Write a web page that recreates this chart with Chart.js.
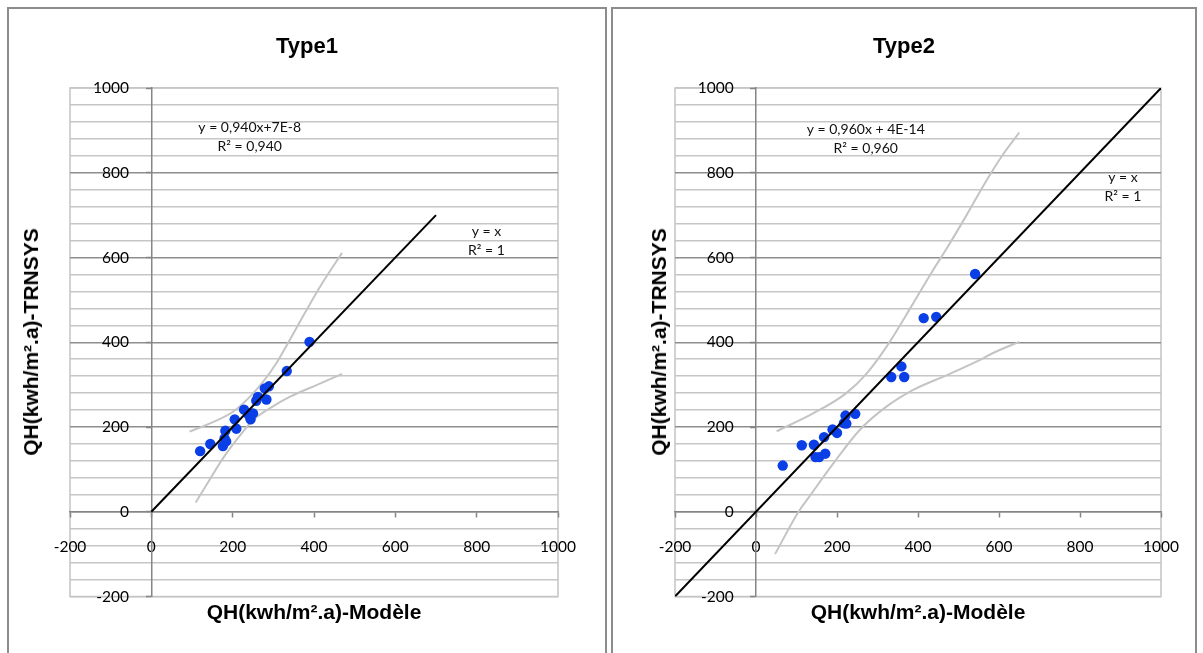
<!DOCTYPE html>
<html>
<head>
<meta charset="utf-8">
<script src="https://cdn.jsdelivr.net/npm/chart.js@4.4.1/dist/chart.umd.min.js"></script>
<style>
  html, body { margin: 0; padding: 0; background: #ffffff; }
  body { width: 1203px; height: 653px; position: relative; overflow: hidden; }
  .panel { position: absolute; top: 7px; height: 700px; border: 2px solid #8c8c8c; box-sizing: border-box; background: #ffffff; }
  canvas { position: absolute; top: 0; }
  .title { position: absolute; font-family: "Liberation Sans", Arial, sans-serif; font-weight: bold; color: #000; white-space: nowrap; transform: translate(-50%, -50%); }
  .ytitle { position: absolute; font-family: "Liberation Sans", Arial, sans-serif; font-weight: bold; color: #000; white-space: nowrap; transform: translate(-50%, -50%) rotate(-90deg); }
</style>
</head>
<body>
<div class="panel" style="left:7px; width:600px;"></div>
<div class="panel" style="left:611px; width:586px;"></div>
<canvas id="c1" width="607" height="653" style="left:0px; width:607px; height:653px;"></canvas>
<canvas id="c2" width="596" height="653" style="left:607px; width:596px; height:653px;"></canvas>

<div class="title" style="left:307px; top:46px; font-size:22px;">Type1</div>
<div class="title" style="left:904px; top:46px; font-size:22px;">Type2</div>
<div class="title" style="left:314px; top:612px; font-size:21px;">QH(kwh/m².a)-Modèle</div>
<div class="title" style="left:918px; top:612px; font-size:21px;">QH(kwh/m².a)-Modèle</div>
<div class="ytitle" style="left:31px; top:342px; font-size:21px;">QH(kwh/m².a)-TRNSYS</div>
<div class="ytitle" style="left:659px; top:342px; font-size:21px;">QH(kwh/m².a)-TRNSYS</div>

<script>
// ---------- Data ----------
const axisMin = -200;
const axisMax = 1000;
const majorStep = 200;
const minorStep = 40;
// where the y tick labels end (in x data units, left of the y axis)
const yLabelAnchorX = -55;

// Type1 scatter points: model (x) vs TRNSYS (y)
const type1ModelX   = [120, 145, 176, 180, 182, 184, 205, 209, 228, 240, 244, 250, 258, 262, 283, 279, 289, 333, 389];
const type1TrnsysY  = [143, 160, 155, 173, 191, 166, 218, 196, 241, 228, 218, 232, 262, 271, 265, 291, 296, 332, 401];
// Type1 reference line y = x
const type1LineX = [0, 700];
const type1LineY = [0, 700];
// Type1 grey band curves
const type1UpperX = [94, 143, 201, 242, 275, 307, 340, 381, 422, 469];
const type1UpperY = [189, 208, 236, 271, 307, 350, 405, 475, 542, 611];
const type1LowerX = [109, 143, 176, 209, 250, 291, 340, 406, 469];
const type1LowerY = [22, 75, 126, 169, 216, 244, 271, 299, 325];

// Type2 scatter points
const type2ModelX  = [66, 113, 143, 147, 156, 171, 168, 189, 200, 217, 221, 223, 245, 334, 359, 366, 414, 445, 541];
const type2TrnsysY = [109, 157, 158, 129, 129, 137, 176, 194, 186, 209, 227, 208, 231, 318, 343, 318, 457, 460, 561];
// Type2 reference line y = x
const type2LineX = [-200, 1000];
const type2LineY = [-200, 1000];
// Type2 grey band curves
const type2UpperX = [51, 141, 223, 273, 322, 387, 437, 470, 520, 568, 609, 650];
const type2UpperY = [190, 232, 280, 326, 389, 490, 570, 620, 700, 780, 842, 895];
const type2LowerX = [47, 105, 129, 191, 256, 322, 387, 470, 552, 584, 650];
const type2LowerY = [-100, 0, 32, 114, 193, 248, 287, 322, 358, 374, 401];

// Trendline labels (anchor in data coordinates, lines of text)
const type1Labels = [
  { x: 242, y: 907, lines: ["y = 0,940x+7E-8", "R² = 0,940"] },
  { x: 824, y: 662, lines: ["y = x", "R² = 1"] }
];
const type2Labels = [
  { x: 271, y: 903, lines: ["y = 0,960x + 4E-14", "R² = 0,960"] },
  { x: 906, y: 789, lines: ["y = x", "R² = 1"] }
];

// ---------- helpers ----------
function pairs(xs, ys) { return xs.map((x, i) => ({ x: x, y: ys[i] })); }

const plotBorder = {
  id: 'plotBorder',
  beforeDraw(chart) {
    const a = chart.chartArea, ctx = chart.ctx;
    ctx.save();
    ctx.strokeStyle = '#c3c3c3';
    ctx.lineWidth = 1.5;
    ctx.strokeRect(a.left, a.top, a.right - a.left, a.bottom - a.top);
    ctx.restore();
  }
};

const trendLabels = {
  id: 'trendLabels',
  afterDatasetsDraw(chart, args, opts) {
    const ctx = chart.ctx;
    const xs = chart.scales.x, ys = chart.scales.y;
    ctx.save();
    ctx.font = '14px Lato, "Open Sans", sans-serif';
    ctx.fillStyle = '#111';
    ctx.textAlign = 'center';
    ctx.textBaseline = 'middle';
    (opts.items || []).forEach(it => {
      const px = xs.getPixelForValue(it.x);
      const py = ys.getPixelForValue(it.y);
      it.lines.forEach((t, i) => ctx.fillText(t, px, py + i * 19));
    });
    ctx.restore();
  }
};

function makeChart(canvasId, pts, line, upper, lower, labels, padding) {
  const isMajor = v => v % majorStep === 0;
  const isEdge = v => v === axisMin || v === axisMax;
  return new Chart(document.getElementById(canvasId), {
    type: 'scatter',
    data: {
      datasets: [
        {
          data: line, showLine: true, borderColor: '#000000', borderWidth: 2,
          pointRadius: 0, pointHoverRadius: 0, order: 0
        },
        {
          data: pts, backgroundColor: '#0a3ee6', borderColor: '#0a3ee6',
          pointRadius: 5.2, pointBorderWidth: 0, order: 1
        },
        {
          data: upper, showLine: true, borderColor: '#c4c4c4', borderWidth: 2,
          cubicInterpolationMode: 'monotone', pointRadius: 0, order: 2
        },
        {
          data: lower, showLine: true, borderColor: '#c4c4c4', borderWidth: 2,
          cubicInterpolationMode: 'monotone', pointRadius: 0, order: 2
        }
      ]
    },
    options: {
      responsive: false,
      animation: false,
      events: [],
      layout: { padding: padding },
      plugins: {
        legend: { display: false },
        tooltip: { enabled: false },
        title: { display: false },
        trendLabels: { items: labels }
      },
      scales: {
        x: {
          type: 'linear',
          position: { y: 0 },
          min: axisMin, max: axisMax,
          grid: {
            drawOnChartArea: false, drawTicks: true, tickLength: 5,
            tickColor: '#858585', tickWidth: 1.5
          },
          border: { display: true, color: '#858585', width: 1.5 },
          ticks: {
            stepSize: majorStep, padding: 21, color: '#000',
            font: { family: 'Lato', size: 15.5 }, maxRotation: 0, autoSkip: false,
            callback: v => String(v)
          }
        },
        // labels + horizontal grid lines
        y: {
          type: 'linear',
          position: { x: yLabelAnchorX },
          min: axisMin, max: axisMax,
          grid: {
            drawOnChartArea: true, drawTicks: false,
            color: ctx => (isMajor(ctx.tick.value) && !isEdge(ctx.tick.value)) ? '#8e8e8e' : '#c6c6c6',
            lineWidth: 1.5
          },
          border: { display: false },
          ticks: {
            stepSize: minorStep, padding: 0, color: '#000', autoSkip: false,
            font: { family: 'Lato', size: 15.5 },
            callback: v => (v % majorStep === 0 ? String(v) : '')
          }
        },
        // the vertical axis line at x = 0 with its major tick marks
        yAxisLine: {
          type: 'linear',
          axis: 'y',
          position: { x: 0 },
          min: axisMin, max: axisMax,
          grid: {
            drawOnChartArea: false, drawTicks: true, tickLength: 5,
            tickColor: '#858585', tickWidth: 1.5
          },
          border: { display: true, color: '#858585', width: 1.5 },
          ticks: { stepSize: majorStep, display: false }
        }
      }
    },
    plugins: [plotBorder, trendLabels]
  });
}

makeChart('c1',
  pairs(type1ModelX, type1TrnsysY), pairs(type1LineX, type1LineY),
  pairs(type1UpperX, type1UpperY), pairs(type1LowerX, type1LowerY),
  type1Labels, { left: 70, right: 49, top: 88, bottom: 56.5 });

makeChart('c2',
  pairs(type2ModelX, type2TrnsysY), pairs(type2LineX, type2LineY),
  pairs(type2UpperX, type2UpperY), pairs(type2LowerX, type2LowerY),
  type2Labels, { left: 68, right: 42, top: 88, bottom: 56.5 });
</script>
</body>
</html>
